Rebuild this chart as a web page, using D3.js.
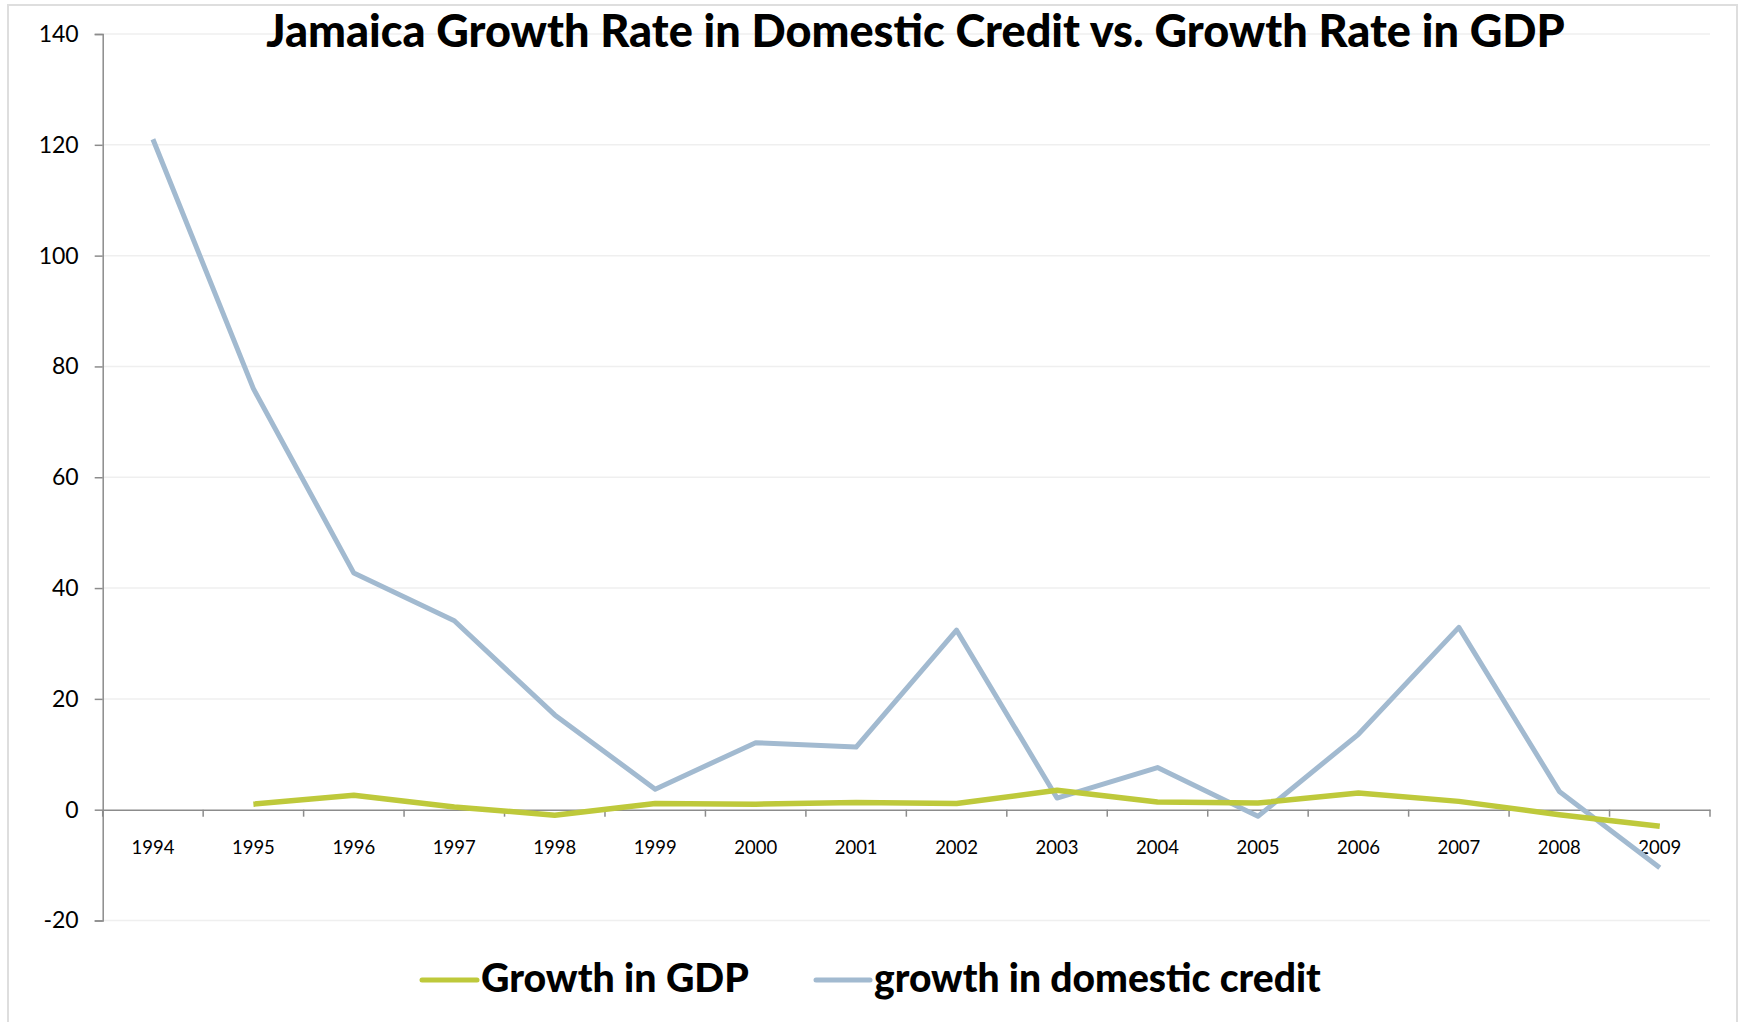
<!DOCTYPE html>
<html><head><meta charset="utf-8">
<script src="https://cdn.jsdelivr.net/npm/d3@7"></script>
<style>body{margin:0;background:#fff}svg{display:block}text{font-family:Lato,"Noto Sans",sans-serif}</style>
</head><body>
<script>
const years = ["1994","1995","1996","1997","1998","1999","2000","2001","2002","2003","2004","2005","2006","2007","2008","2009"];
const gdpGrowth = [null,1.0,2.6,0.5,-1.0,1.1,1.0,1.3,1.1,3.5,1.4,1.2,3.0,1.5,-0.9,-3.0];
const creditGrowth = [121,76,42.7,34.1,17.1,3.7,12.1,11.3,32.4,2.1,7.6,-1.2,13.6,32.9,3.3,-10.5];
const yTicks = [-20,0,20,40,60,80,100,120,140];
const yTickLabels = ["-20","0","20","40","60","80","100","120","140"];
const seriesNames = ["Growth in GDP","growth in domestic credit"];
const seriesColors = ["#bec93b","#a2bad0"];

const W=1741,H=1022;
const svg=d3.select("body").append("svg").attr("width",W).attr("height",H);
svg.append("rect").attr("x",8).attr("y",5).attr("width",1729).attr("height",1040)
  .attr("fill","#fff").attr("stroke","#dedede").attr("stroke-width",2);

const x=d3.scaleBand().domain(years).range([102.7,1710]).paddingInner(0).paddingOuter(0);
const y=d3.scaleLinear().domain([-20,140]).range([920.5,34]);

// gridlines
svg.append("g").selectAll("line").data(yTicks.filter(d=>d!==0)).join("line")
  .attr("x1",102.7).attr("x2",1710).attr("y1",d=>y(d)).attr("y2",d=>y(d))
  .attr("stroke","#efefef").attr("stroke-width",1.5);

// y axis
const yAxis=svg.append("g").attr("transform","translate(102.7,0)")
  .call(d3.axisLeft(y).tickValues(yTicks).tickSize(8).tickPadding(16)
    .tickFormat((d,i)=>yTickLabels[yTicks.indexOf(d)]));
yAxis.select(".domain").attr("stroke","#8c8c8c").attr("stroke-width",1.5);
yAxis.selectAll(".tick line").attr("stroke","#8c8c8c").attr("stroke-width",1.5);
yAxis.selectAll(".tick text").attr("font-size",23).attr("fill","#000").attr("font-family","Lato");

// x axis at zero
const xAxis=svg.append("g").attr("transform",`translate(0,${y(0)})`)
  .call(d3.axisBottom(x).tickSize(0).tickPadding(0));
xAxis.select(".domain").attr("stroke","#8c8c8c").attr("stroke-width",1.5);
xAxis.selectAll(".tick text").attr("font-size",18.5).attr("fill","#000").attr("y",44).attr("dy",0).attr("font-family","Lato");
// boundary tick marks
const bounds=years.map(d=>x(d)).concat([x(years[years.length-1])+x.bandwidth()]);
xAxis.append("g").selectAll("line").data(bounds).join("line")
  .attr("x1",d=>d).attr("x2",d=>d).attr("y1",0).attr("y2",7)
  .attr("stroke","#8c8c8c").attr("stroke-width",1.5);

const cx=d=>x(d)+x.bandwidth()/2;
const line=d3.line().defined(d=>d[1]!=null).x(d=>cx(d[0])).y(d=>y(d[1]));
svg.append("path").datum(years.map((d,i)=>[d,creditGrowth[i]]))
  .attr("d",line).attr("fill","none").attr("stroke",seriesColors[1]).attr("stroke-width",5).attr("stroke-linejoin","round");
svg.append("path").datum(years.map((d,i)=>[d,gdpGrowth[i]]))
  .attr("d",line).attr("fill","none").attr("stroke",seriesColors[0]).attr("stroke-width",5.5).attr("stroke-linejoin","round");

function fit(sel,target){
  const w=sel.node().getComputedTextLength();
  const fs=parseFloat(sel.attr("font-size"));
  sel.attr("font-size",fs*target/w);
}
// title
const title=svg.append("text").attr("x",915.5).attr("y",47).attr("text-anchor","middle")
  .attr("font-size",38).attr("font-weight",900).attr("fill","#000")
  .text("Jamaica Growth Rate in Domestic Credit vs. Growth Rate in GDP");
fit(title,1299);

// legend
const leg=[{x0:422,x1:477,tx:481,tw:268},{x0:816,x1:870,tx:874,tw:447}];
leg.forEach((l,i)=>{
  svg.append("line").attr("x1",l.x0).attr("x2",l.x1).attr("y1",980).attr("y2",980)
    .attr("stroke",seriesColors[i]).attr("stroke-width",5).attr("stroke-linecap","round");
  const t=svg.append("text").attr("x",l.tx).attr("y",992).attr("font-size",34).attr("font-weight",900)
    .attr("fill","#000").text(seriesNames[i]);
  fit(t,l.tw);
});
</script>
</body></html>
